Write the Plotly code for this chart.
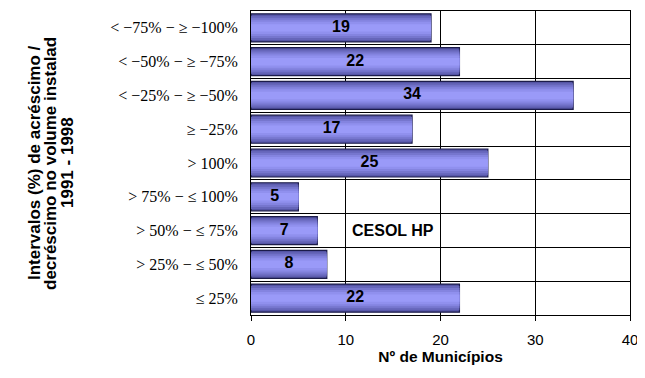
import plotly.graph_objects as go

categories = [
    "< −75% − ≥ −100%",
    "< −50% − ≥ −75%",
    "< −25% − ≥ −50%",
    "≥ −25%",
    "> 100%",
    "> 75% − ≤ 100%",
    "> 50% − ≤ 75%",
    "> 25% − ≤ 50%",
    "≤ 25%",
]
values = [19, 22, 34, 17, 25, 5, 7, 8, 22]
x_ticks = [0, 10, 20, 30, 40]
y_title_lines = [
    "Intervalos (%) de acréscimo /",
    "decréscimo no volume instalad",
    "1991 - 1998",
]

# page offset (body margin) compensation: figure drawn from (8,8)
W, H = 637, 370
L, R, T, B = 243, 15, 3, 63
plot_w = W - L - R

fig = go.Figure()

# pseudo-gradient: overlaid bars, outer dark to inner light
layers = [
    (0.83, "#5454a4", dict(color="#1c1c4a", width=1.2)),
    (0.72, "#6666ba", dict(width=0)),
    (0.60, "#7676ce", dict(width=0)),
    (0.48, "#8484e0", dict(width=0)),
    (0.36, "#9090ee", dict(width=0)),
    (0.22, "#9a9af8", dict(width=0)),
]
for w, c, ln in layers:
    fig.add_trace(go.Bar(
        x=values, y=categories, orientation="h",
        width=w, marker=dict(color=c, line=ln),
        hoverinfo="skip", showlegend=False,
    ))

fig.add_trace(go.Scatter(
    x=[v / 2 for v in values], y=categories, mode="text",
    text=[str(v) for v in values],
    textfont=dict(family="Liberation Sans", size=16, color="black", weight="bold"),
    showlegend=False, hoverinfo="skip",
))

fig.add_annotation(
    x=10.4, y="> 50% − ≤ 75%", xref="x", yref="y",
    text="<b>CESOL HP</b>", showarrow=False, xanchor="left",
    font=dict(family="Liberation Sans", size=16, color="black"),
)

# rotated y-axis title, one annotation per line (absolute page x centres)
for page_x, line in zip([34, 50, 67], y_title_lines):
    fig.add_annotation(
        x=(page_x - 8 - L) / plot_w, y=0.5, xref="paper", yref="paper",
        text="<b>" + line + "</b>", showarrow=False, textangle=-90,
        xanchor="center", yanchor="middle",
        font=dict(family="Liberation Sans", size=17, color="black"),
    )

fig.update_layout(
    width=W, height=H,
    margin=dict(l=L, r=R, t=T, b=B, autoexpand=False),
    barmode="overlay",
    plot_bgcolor="white", paper_bgcolor="white",
    xaxis=dict(
        range=[0, 40], tickvals=x_ticks, showgrid=True, gridcolor="black", gridwidth=1,
        showline=True, linecolor="black", linewidth=1, mirror=True,
        ticks="outside", ticklen=5, tickcolor="black", ticklabelstandoff=6,
        tickfont=dict(family="Liberation Sans", size=15, color="black"),
        title=dict(text="<b>Nº de Municípios</b>", standoff=4,
                   font=dict(family="Liberation Sans", size=15.5, color="black")),
        zeroline=False,
    ),
    yaxis=dict(
        type="category", categoryorder="array", categoryarray=categories,
        autorange="reversed", tickson="boundaries",
        showgrid=True, gridcolor="black", gridwidth=1,
        showline=True, linecolor="black", linewidth=1, mirror=True,
        ticks="", ticklabelstandoff=9,
        tickfont=dict(family="Liberation Serif", size=16, color="black"),
    ),
)

fig.write_html("out.html")
